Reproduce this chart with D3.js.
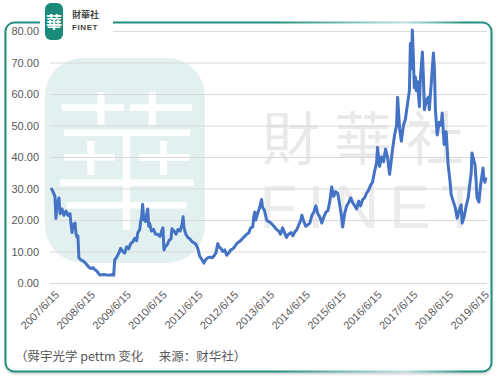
<!DOCTYPE html>
<html>
<head>
<meta charset="utf-8">
<script src="https://cdn.jsdelivr.net/npm/d3@7"></script>
<style>
html,body{margin:0;padding:0;background:#fff;}
svg{display:block;}
</style>
</head>
<body>
<svg id="chart" width="497" height="379"></svg>
<script>
// ---- data ----
const dates = ["2007-06-05","2007-06-25","2007-07-15","2007-07-25","2007-08-05","2007-08-25","2007-09-05","2007-09-25","2007-10-15","2007-11-05","2007-11-25","2007-12-15","2007-12-25","2008-01-05","2008-01-15","2008-02-05","2008-02-15","2008-02-25","2008-03-05","2008-03-15","2008-04-05","2008-04-25","2008-05-15","2008-06-05","2008-06-25","2008-07-15","2008-08-05","2008-08-25","2008-09-15","2008-10-05","2008-10-15","2008-11-25","2009-01-05","2009-02-15","2009-03-05","2009-03-15","2009-04-05","2009-04-25","2009-05-15","2009-06-05","2009-06-25","2009-07-15","2009-08-05","2009-08-25","2009-09-15","2009-10-05","2009-10-25","2009-11-05","2009-11-25","2009-12-05","2009-12-15","2009-12-25","2010-01-05","2010-01-15","2010-01-25","2010-02-05","2010-02-15","2010-02-25","2010-03-05","2010-03-25","2010-04-15","2010-05-05","2010-05-25","2010-06-20","2010-07-10","2010-07-20","2010-07-30","2010-08-10","2010-08-30","2010-09-20","2010-10-10","2010-10-20","2010-11-10","2010-11-30","2010-12-20","2011-01-10","2011-01-30","2011-02-10","2011-02-20","2011-03-10","2011-03-30","2011-04-20","2011-05-10","2011-05-30","2011-06-20","2011-07-10","2011-07-30","2011-08-20","2011-09-10","2011-09-30","2011-10-20","2011-11-10","2011-11-30","2011-12-20","2012-01-10","2012-01-30","2012-02-10","2012-03-01","2012-03-20","2012-04-10","2012-04-30","2012-05-20","2012-06-10","2012-06-30","2012-07-20","2012-08-10","2012-08-30","2012-09-20","2012-10-10","2012-10-30","2012-11-20","2012-12-10","2012-12-30","2013-01-20","2013-01-30","2013-02-10","2013-02-20","2013-03-10","2013-03-30","2013-04-20","2013-04-30","2013-05-20","2013-06-10","2013-06-30","2013-07-20","2013-08-10","2013-08-30","2013-09-20","2013-10-10","2013-10-30","2013-11-20","2013-12-10","2013-12-30","2014-01-20","2014-02-15","2014-03-05","2014-03-25","2014-04-15","2014-05-05","2014-05-25","2014-06-05","2014-06-25","2014-07-15","2014-08-05","2014-08-25","2014-09-15","2014-10-05","2014-10-25","2014-11-15","2014-12-05","2014-12-25","2015-01-15","2015-02-05","2015-02-25","2015-03-15","2015-04-05","2015-04-25","2015-05-15","2015-06-05","2015-06-25","2015-07-15","2015-07-25","2015-08-15","2015-09-05","2015-09-25","2015-10-15","2015-11-05","2015-11-25","2015-12-15","2016-01-05","2016-01-25","2016-02-15","2016-03-05","2016-03-25","2016-04-15","2016-05-05","2016-05-25","2016-06-15","2016-07-05","2016-07-15","2016-08-05","2016-08-25","2016-09-15","2016-10-05","2016-10-25","2016-11-15","2016-11-25","2016-12-15","2017-01-05","2017-01-25","2017-02-05","2017-02-25","2017-03-15","2017-04-05","2017-04-25","2017-05-15","2017-06-05","2017-06-15","2017-06-25","2017-07-05","2017-07-15","2017-07-25","2017-08-05","2017-08-15","2017-08-25","2017-09-05","2017-09-15","2017-09-25","2017-10-15","2017-10-25","2017-11-05","2017-11-25","2017-12-15","2017-12-25","2018-01-15","2018-02-05","2018-02-15","2018-02-25","2018-03-15","2018-04-05","2018-04-25","2018-05-05","2018-05-25","2018-06-15","2018-07-05","2018-07-25","2018-08-05","2018-08-25","2018-09-15","2018-10-05","2018-10-25","2018-11-15","2018-11-25","2018-12-15","2019-01-05","2019-01-25","2019-02-05","2019-02-25","2019-03-05","2019-03-15","2019-04-05","2019-04-15","2019-04-25","2019-05-15","2019-05-25","2019-06-05","2019-06-25","2019-07-05","2019-07-15","2019-07-25"];
const pettm = [30.2,29.0,27.5,20.5,25,27,22,23.5,21.5,22.8,21.5,22,19,16,18.5,19,15.5,14.5,15,8,7.3,7.0,6.5,5.8,5.0,4.6,4.9,4.2,3.8,2.9,2.5,2.7,2.5,2.6,2.5,7.3,8.2,9.5,11,10,9.5,11.5,10.8,12.5,13,14.2,13.4,15.9,17,19.5,21,25,20,21,19.5,22,23.5,18,19,16.5,17,15.5,15.5,14.8,16.8,17.5,10.5,11.5,12,13.5,14,17.2,16.5,15.5,17,16.5,18.5,21,17.5,15.5,14.5,14,13.2,12.8,12.3,11,8.5,7.5,6.3,7.5,8,8.2,8,8.5,9.5,12.5,11.5,11,10,10.5,8.8,9.5,10.5,10.8,11.5,12.5,13,13.5,14.2,14.8,15.5,15.9,17.5,17.8,21,22.5,20,22,23.8,26.5,24,23,20,19.5,19.2,18.5,17.8,17,16.5,15.5,17.5,16,14.5,15.5,16,15,16.2,17,18.5,20,21.5,19.5,18,18.5,19,21.5,22.5,24.5,22,21,19,21,22.5,23,25.5,30.5,27.5,29,28.5,25,21,17.8,22,24.5,25.5,27,25.5,24.5,23.5,26,24.5,26.5,27,28.5,29.5,31,32,35.5,38,43,37,40,38.5,42.5,40,34.5,37,42.5,47,50,59,49,45,50,52,56.5,61,76,68,80.3,72,62,65.5,61,64,60,56,65,73.3,66,55,58,59,55,64,73,68,55,47,51,50,54,44,48,37.5,32,28,26,24,20.6,23,24.8,19,21,24.5,27,30,35,41.3,40,37.5,33,27,25.7,29,32,36.5,33,32,33.5];
const yTicks = [0,10,20,30,40,50,60,70,80];
const xTickDates = ["2007-06-15","2008-06-15","2009-06-15","2010-06-15","2011-06-15","2012-06-15","2013-06-15","2014-06-15","2015-06-15","2016-06-15","2017-06-15","2018-06-15","2019-06-15"];
const caption = "（舜宇光学 pettm 变化\u3000 来源：财华社）";

// ---- drawing ----
const parse = d3.timeParse("%Y-%m-%d");
const fmt = d3.timeFormat("%Y/%-m/%-d");
const data = dates.map((d,i)=>({date:parse(d), v:pettm[i]}));
const svg = d3.select("#chart");
const defs = svg.append("defs");

const topGrad = defs.append("linearGradient").attr("id","topGrad").attr("x1","0").attr("x2","1").attr("y1","0").attr("y2","0");
topGrad.append("stop").attr("offset","0").attr("stop-color","#1d8f80");
topGrad.append("stop").attr("offset","0.55").attr("stop-color","#1d8f80");
topGrad.append("stop").attr("offset","0.82").attr("stop-color","#bfe3de");
topGrad.append("stop").attr("offset","0.95").attr("stop-color","#1d8f80");
topGrad.append("stop").attr("offset","1").attr("stop-color","#1d8f80");
const f = defs.append("filter").attr("id","sh").attr("x","-5%").attr("y","-5%").attr("width","110%").attr("height","115%");
f.append("feDropShadow").attr("dx",0).attr("dy",1.5).attr("stdDeviation",1.2).attr("flood-color","#888").attr("flood-opacity",0.45);

// frame
svg.append("rect").attr("x",5.5).attr("y",22.5).attr("width",486).attr("height",349)
  .attr("rx",9).attr("fill","#fff").attr("stroke","url(#topGrad)").attr("stroke-width",2).attr("filter","url(#sh)");

// watermark: 華 badge
svg.append("rect").attr("x",45).attr("y",58).attr("width",160).attr("height",205).attr("rx",38)
  .attr("fill","#e2f1ef");
svg.append("text").attr("x",127).attr("y",218).attr("text-anchor","middle")
  .attr("font-family","Noto Sans CJK TC, Noto Sans CJK SC, sans-serif").attr("font-size",150).attr("font-weight",300)
  .attr("fill","#ffffff").text("華");
// watermark: gray text
svg.append("text").attr("x",370).attr("y",160).attr("text-anchor","middle")
  .attr("font-family","Noto Sans CJK TC, Noto Sans CJK SC, sans-serif").attr("font-size",58)
  .attr("fill","#e9e9e9").attr("letter-spacing",14).text("財華社");
svg.append("text").attr("x",374).attr("y",228).attr("text-anchor","middle")
  .attr("font-family","Liberation Sans, Arial, sans-serif").attr("font-size",62)
  .attr("fill","#ececec").attr("letter-spacing",10).text("FINET");

const x = d3.scaleTime().domain([parse("2007-06-15"), parse("2019-06-15")]).range([52,482]);
const y = d3.scaleLinear().domain([0,80]).range([283,31]);

// gridlines + y labels via axis
const yAxis = d3.axisLeft(y).tickValues(yTicks).tickSize(-(487-50)).tickFormat(d=>d3.format(".2f")(d)).tickPadding(11);
const gy = svg.append("g").attr("transform","translate(50,0)").call(yAxis);
gy.select(".domain").remove();
gy.selectAll(".tick line").attr("stroke","#d9d9d9").attr("stroke-width",1);
gy.selectAll(".tick text").attr("fill","#595959").attr("font-size",11)
  .attr("font-family","Liberation Sans, Arial, sans-serif");

// x labels via axis
const xAxis = d3.axisBottom(x).tickValues(xTickDates.map(parse)).tickFormat(fmt).tickSize(0).tickPadding(0);
const gx = svg.append("g").attr("transform","translate(2,290)").call(xAxis);
gx.select(".domain").remove();
gx.selectAll(".tick text").attr("fill","#595959").attr("font-size",11)
  .attr("font-family","Liberation Sans, Arial, sans-serif")
  .attr("text-anchor","end").attr("dy","0.7em").attr("transform","rotate(-45)");

// line
const line = d3.line().x(d=>x(d.date)).y(d=>y(d.v));
svg.append("path").datum(data).attr("d",line).attr("fill","none")
  .attr("stroke","#4472c4").attr("stroke-width",3).attr("stroke-linejoin","round");

// caption
svg.append("text").attr("x",15).attr("y",361)
  .attr("font-family","Noto Sans CJK SC, sans-serif").attr("font-size",12.5).attr("fill","#595959").text(caption);

// logo
svg.append("rect").attr("x",40).attr("y",14).attr("width",73).attr("height",18).attr("fill","#fff");
svg.append("rect").attr("x",45).attr("y",3).attr("width",18).attr("height",37).attr("rx",6).attr("fill","#1a8a7a");
svg.append("text").attr("x",54).attr("y",28).attr("text-anchor","middle")
  .attr("font-family","Noto Sans CJK TC, Noto Sans CJK SC, sans-serif").attr("font-size",16).attr("font-weight",700)
  .attr("fill","#fff").text("華");
svg.append("text").attr("x",72).attr("y",18)
  .attr("font-family","Noto Sans CJK TC, Noto Sans CJK SC, sans-serif").attr("font-size",9).attr("font-weight",700)
  .attr("fill","#444").text("財華社");
svg.append("text").attr("x",72).attr("y",30)
  .attr("font-family","Liberation Sans, Arial, sans-serif").attr("font-size",8).attr("font-weight",700)
  .attr("fill","#444").attr("letter-spacing",0.6).text("FINET");
</script>
</body>
</html>
